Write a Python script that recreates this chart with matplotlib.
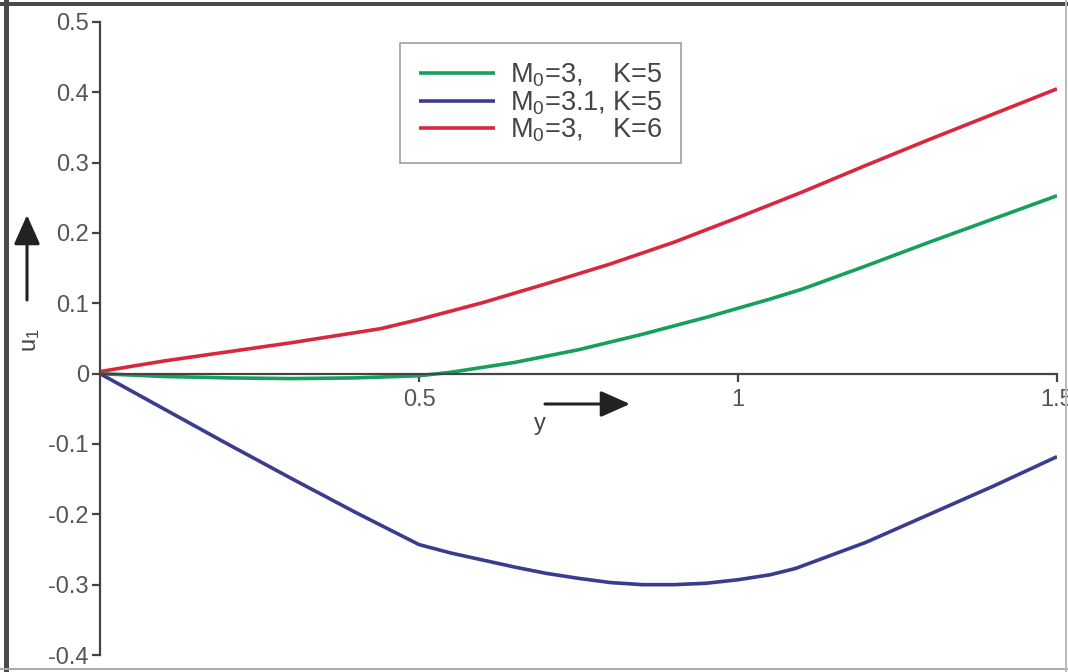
import matplotlib
matplotlib.use("Agg")
import matplotlib.pyplot as plt
from matplotlib.patches import Rectangle

plt.rcParams['font.family'] = ['Liberation Sans', 'DejaVu Sans']
plt.rcParams['mathtext.fontset'] = 'custom'
plt.rcParams['mathtext.rm'] = 'Liberation Sans'
plt.rcParams['mathtext.it'] = 'Liberation Sans'

# ---- data ----
x_green = [0, 0.05, 0.1, 0.2, 0.3, 0.4, 0.5, 0.55, 0.6, 0.65, 0.7, 0.75, 0.8, 0.85,
           0.9, 0.95, 1.0, 1.05, 1.1, 1.2, 1.3, 1.4, 1.5]
u_green = [0, -0.002, -0.004, -0.006, -0.007, -0.006, -0.003, 0.002, 0.009, 0.016,
           0.025, 0.034, 0.045, 0.056, 0.068, 0.080, 0.093, 0.106, 0.120, 0.153,
           0.187, 0.220, 0.253]

x_blue = [0, 0.1, 0.2, 0.3, 0.4, 0.5, 0.55, 0.6, 0.65, 0.7, 0.75, 0.8, 0.85, 0.9,
          0.95, 1.0, 1.05, 1.09, 1.2, 1.3, 1.4, 1.5]
u_blue = [0, -0.05, -0.1, -0.149, -0.197, -0.243, -0.255, -0.265, -0.275, -0.284,
          -0.291, -0.297, -0.300, -0.300, -0.298, -0.293, -0.286, -0.277, -0.24,
          -0.2, -0.16, -0.118]

x_red = [0, 0.1, 0.2, 0.3, 0.44, 0.5, 0.6, 0.7, 0.8, 0.9, 1.0, 1.1, 1.2, 1.3, 1.4, 1.5]
u_red = [0.003, 0.018, 0.031, 0.044, 0.064, 0.077, 0.101, 0.128, 0.156, 0.187,
         0.222, 0.258, 0.296, 0.333, 0.369, 0.405]

labels = [r"M$_0$=3,    K=5", r"M$_0$=3.1, K=5", r"M$_0$=3,    K=6"]
colors = ["#16a05c", "#3b3b8f", "#d8283f"]

x_ticks = [0.5, 1, 1.5]
x_ticklabels = ["0.5", "1", "1.5"]
y_ticks = [-0.4, -0.3, -0.2, -0.1, 0, 0.1, 0.2, 0.3, 0.4, 0.5]
y_ticklabels = ["-0.4", "-0.3", "-0.2", "-0.1", "0", "0.1", "0.2", "0.3", "0.4", "0.5"]

W, H = 1068, 672
fig = plt.figure(figsize=(W / 100, H / 100), dpi=100)
ax = fig.add_axes([100 / W, 1 - 655 / H, (1057 - 100) / W, (655 - 22) / H])
ax.set_xlim(0, 1.5)
ax.set_ylim(-0.4, 0.5)

for xs, ys, c, lab in zip([x_green, x_blue, x_red], [u_green, u_blue, u_red], colors, labels):
    ax.plot(xs, ys, color=c, lw=2.6, label=lab, solid_capstyle='butt',
            solid_joinstyle='round')

for s in ['top', 'right']:
    ax.spines[s].set_visible(False)
ax.spines['bottom'].set_position(('data', 0))
for s in ['left', 'bottom']:
    ax.spines[s].set_color('#444444')
    ax.spines[s].set_linewidth(1.6)

ax.set_xticks(x_ticks)
ax.set_xticklabels(x_ticklabels)
ax.set_yticks(y_ticks)
ax.set_yticklabels(y_ticklabels)
ax.tick_params(axis='both', direction='out', length=6, width=1.6, color='#444444',
               labelsize=17, labelcolor='#555555')
ax.tick_params(axis='y', pad=2)
ax.tick_params(axis='x', pad=5)

leg = ax.legend(loc='upper left', bbox_to_anchor=(400 / W, 1 - 43 / H),
                bbox_transform=fig.transFigure, fontsize=19.5, frameon=True,
                fancybox=False, handlelength=2.8, handletextpad=0.55,
                labelspacing=0.0, borderpad=0.7, borderaxespad=0)
leg.get_frame().set_edgecolor('#888888')
leg.get_frame().set_linewidth(1.2)
for t in leg.get_texts():
    t.set_color('#444444')

# axis labels with arrows
fig.text(31 / W, 1 - 340 / H, r"u$_1$", rotation=90, ha='center', va='center',
         fontsize=17, color='#444444')
fig.text(540 / W, 1 - 424 / H, "y", ha='center', va='center', fontsize=17, color='#444444')

arrowprops = dict(arrowstyle='-|>,head_length=1.8,head_width=0.8', color='#222222',
                  lw=2.2, shrinkA=0, shrinkB=0)
fig.add_artist(plt.Annotation("", xy=(27, H - 215), xytext=(27, H - 300),
                              xycoords='figure pixels', textcoords='figure pixels',
                              arrowprops=arrowprops))
fig.add_artist(plt.Annotation("", xy=(630, H - 404), xytext=(545, H - 404),
                              xycoords='figure pixels', textcoords='figure pixels',
                              arrowprops=arrowprops))

# outer frame
fig.add_artist(Rectangle((4 / W, 0), 5 / W, 1, transform=fig.transFigure,
                         color='#4a4a4a', lw=0))
fig.add_artist(Rectangle((0, 1 - 6 / H), 1, 4 / H, transform=fig.transFigure,
                         color='#4a4a4a', lw=0))
fig.add_artist(Rectangle((0, 2 / H), 1, 2 / H, transform=fig.transFigure,
                         color='#aaaaaa', lw=0))
fig.add_artist(Rectangle((1 - 3 / W, 0), 2 / W, 1, transform=fig.transFigure,
                         color='#bbbbbb', lw=0))

fig.savefig("out.png", dpi=100)
